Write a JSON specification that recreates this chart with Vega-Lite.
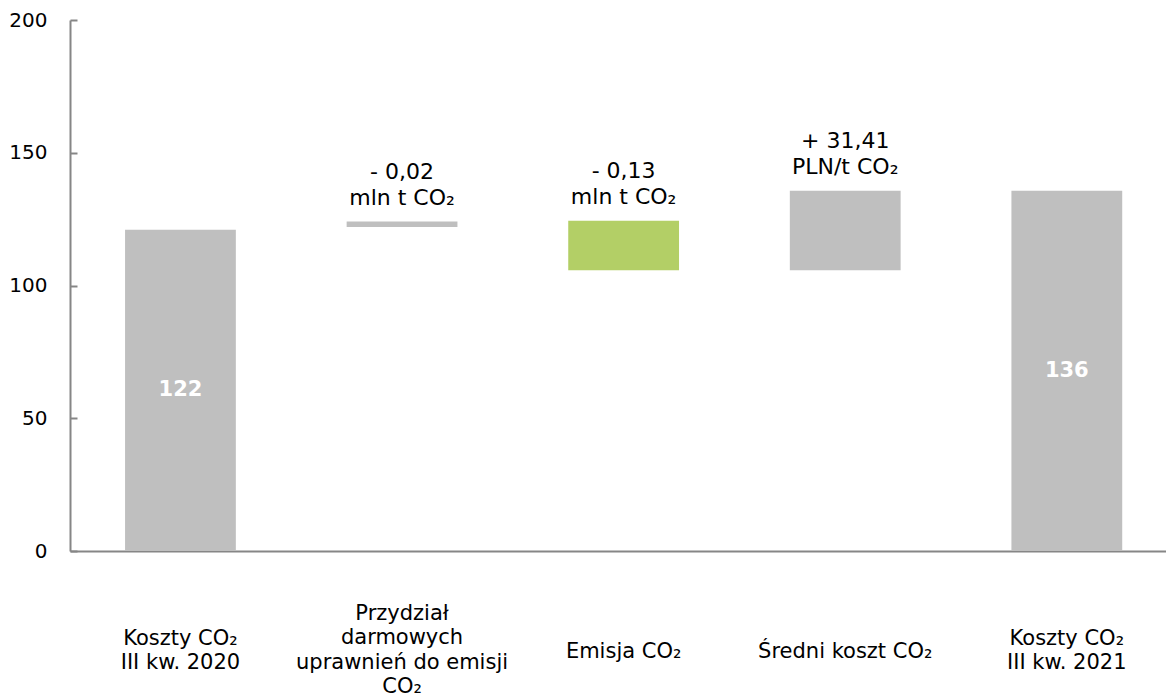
{
  "$schema": "https://vega.github.io/schema/vega-lite/v6.json",
  "width": 1096,
  "height": 531,
  "autosize": {"type": "none"},
  "padding": {"left": 70, "top": 20, "right": 0, "bottom": 146},
  "background": "white",
  "config": {
    "view": {"stroke": null},
    "font": "DejaVu Sans",
    "text": {"font": "DejaVu Sans"}
  },
  "data": {
    "values": [
      {"cat": "Koszty CO₂|III kw. 2020", "start": 0, "end": 121, "kind": "grey", "inner": "122", "note": ""},
      {"cat": "Przydział|darmowych|uprawnień do emisji|CO₂", "start": 122, "end": 124.1, "kind": "grey", "inner": "", "note": "- 0,02|mln t CO₂"},
      {"cat": "Emisja CO₂", "start": 105.7, "end": 124.4, "kind": "green", "inner": "", "note": "- 0,13|mln t CO₂"},
      {"cat": "Średni koszt CO₂", "start": 105.7, "end": 135.7, "kind": "grey", "inner": "", "note": "+ 31,41|PLN/t CO₂"},
      {"cat": "Koszty CO₂|III kw. 2021", "start": 0, "end": 135.7, "kind": "grey", "inner": "136", "note": ""}
    ]
  },
  "encoding": {
    "x": {
      "field": "cat",
      "type": "nominal",
      "sort": null,
      "scale": {"paddingInner": 0.5, "paddingOuter": 0.223, "align": 0.557},
      "axis": {
        "title": null,
        "labelAngle": 0,
        "labelExpr": "split(datum.label, '|')",
        "labelFont": "DejaVu Sans",
        "labelFontSize": 21,
        "labelLineHeight": 24.5,
        "labelLimit": 0,
        "labelColor": "#000000",
        "labelBaseline": "middle",
        "labelPadding": {
          "condition": [
            {"test": "indexof(datum.value, 'Przydział') == 0", "value": 62},
            {"test": "indexof(datum.value, 'Koszty') == 0", "value": 87}
          ],
          "value": 100
        },
        "ticks": false,
        "domainColor": "#868686",
        "domainWidth": 2,
        "grid": false
      }
    }
  },
  "layer": [
    {
      "mark": {"type": "bar"},
      "encoding": {
        "y": {
          "field": "start",
          "type": "quantitative",
          "scale": {"domain": [0, 200], "nice": false},
          "axis": {
            "title": null,
            "values": [0, 50, 100, 150, 200],
            "grid": false,
            "tickSize": -7,
            "tickColor": "#868686",
            "tickWidth": 2,
            "domainColor": "#868686",
            "domainWidth": 2,
            "labelFont": "DejaVu Sans",
            "labelFontSize": 20,
            "labelColor": "#000000",
            "labelPadding": 30
          }
        },
        "y2": {"field": "end"},
        "color": {
          "field": "kind",
          "type": "nominal",
          "scale": {"domain": ["grey", "green"], "range": ["#BFBFBF", "#B3CF66"]},
          "legend": null
        }
      }
    },
    {
      "transform": [{"filter": "datum.inner != ''"}, {"calculate": "(datum.start + datum.end) / 2", "as": "mid"}],
      "mark": {"type": "text", "color": "white", "fontWeight": "bold", "fontSize": 21, "baseline": "middle", "align": "center"},
      "encoding": {
        "y": {"field": "mid", "type": "quantitative"},
        "text": {"field": "inner"}
      }
    },
    {
      "transform": [{"filter": "datum.note != ''"}, {"calculate": "split(datum.note, '|')", "as": "lines"}],
      "mark": {"type": "text", "color": "black", "fontSize": 22, "baseline": "alphabetic", "align": "center", "dy": -43, "lineHeight": 26},
      "encoding": {
        "y": {"field": "end", "type": "quantitative"},
        "text": {"field": "lines"}
      }
    }
  ]
}
